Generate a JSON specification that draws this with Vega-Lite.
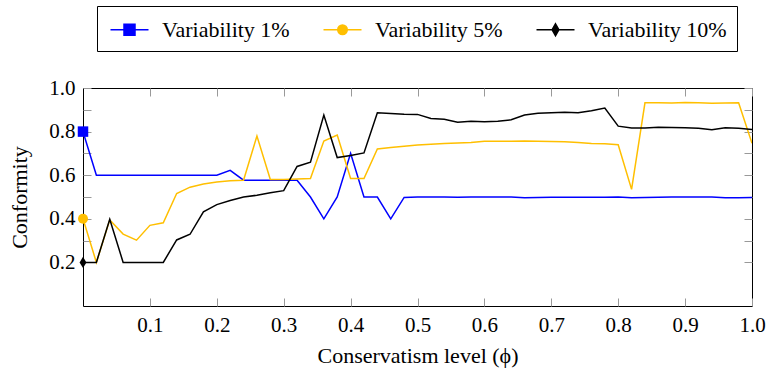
{
  "$schema": "https://vega.github.io/schema/vega-lite/v6.json",
  "width": 669,
  "height": 218,
  "autosize": {"type": "none"},
  "padding": {"left": 83, "top": 88, "right": 19, "bottom": 67},
  "config": {
    "view": {"stroke": "black", "strokeWidth": 1},
    "font": "Times New Roman",
    "axis": {"grid": false, "domain": false, "tickColor": "#999999", "labelFont": "Times New Roman", "labelFontSize": 21, "labelColor": "black", "titleFont": "Times New Roman", "titleFontSize": 22, "titleFontWeight": "normal", "titleColor": "black"}
  },
  "datasets": {
    "main": [
      {"phi": 0.00, "series": "Variability 1%", "conformity": 0.8},
      {"phi": 0.02, "series": "Variability 1%", "conformity": 0.6},
      {"phi": 0.04, "series": "Variability 1%", "conformity": 0.6},
      {"phi": 0.06, "series": "Variability 1%", "conformity": 0.6},
      {"phi": 0.08, "series": "Variability 1%", "conformity": 0.6},
      {"phi": 0.10, "series": "Variability 1%", "conformity": 0.6},
      {"phi": 0.12, "series": "Variability 1%", "conformity": 0.6},
      {"phi": 0.14, "series": "Variability 1%", "conformity": 0.6},
      {"phi": 0.16, "series": "Variability 1%", "conformity": 0.6},
      {"phi": 0.18, "series": "Variability 1%", "conformity": 0.6},
      {"phi": 0.20, "series": "Variability 1%", "conformity": 0.6},
      {"phi": 0.22, "series": "Variability 1%", "conformity": 0.622},
      {"phi": 0.24, "series": "Variability 1%", "conformity": 0.577},
      {"phi": 0.26, "series": "Variability 1%", "conformity": 0.577},
      {"phi": 0.28, "series": "Variability 1%", "conformity": 0.577},
      {"phi": 0.30, "series": "Variability 1%", "conformity": 0.577},
      {"phi": 0.32, "series": "Variability 1%", "conformity": 0.577},
      {"phi": 0.34, "series": "Variability 1%", "conformity": 0.5},
      {"phi": 0.36, "series": "Variability 1%", "conformity": 0.4},
      {"phi": 0.38, "series": "Variability 1%", "conformity": 0.5},
      {"phi": 0.40, "series": "Variability 1%", "conformity": 0.7},
      {"phi": 0.42, "series": "Variability 1%", "conformity": 0.5},
      {"phi": 0.44, "series": "Variability 1%", "conformity": 0.5},
      {"phi": 0.46, "series": "Variability 1%", "conformity": 0.4},
      {"phi": 0.48, "series": "Variability 1%", "conformity": 0.498},
      {"phi": 0.50, "series": "Variability 1%", "conformity": 0.5},
      {"phi": 0.52, "series": "Variability 1%", "conformity": 0.5},
      {"phi": 0.54, "series": "Variability 1%", "conformity": 0.5},
      {"phi": 0.56, "series": "Variability 1%", "conformity": 0.499},
      {"phi": 0.58, "series": "Variability 1%", "conformity": 0.5},
      {"phi": 0.60, "series": "Variability 1%", "conformity": 0.5},
      {"phi": 0.62, "series": "Variability 1%", "conformity": 0.5},
      {"phi": 0.64, "series": "Variability 1%", "conformity": 0.5},
      {"phi": 0.66, "series": "Variability 1%", "conformity": 0.497},
      {"phi": 0.68, "series": "Variability 1%", "conformity": 0.498},
      {"phi": 0.70, "series": "Variability 1%", "conformity": 0.499},
      {"phi": 0.72, "series": "Variability 1%", "conformity": 0.499},
      {"phi": 0.74, "series": "Variability 1%", "conformity": 0.499},
      {"phi": 0.76, "series": "Variability 1%", "conformity": 0.499},
      {"phi": 0.78, "series": "Variability 1%", "conformity": 0.499},
      {"phi": 0.80, "series": "Variability 1%", "conformity": 0.5},
      {"phi": 0.82, "series": "Variability 1%", "conformity": 0.497},
      {"phi": 0.84, "series": "Variability 1%", "conformity": 0.498},
      {"phi": 0.86, "series": "Variability 1%", "conformity": 0.499},
      {"phi": 0.88, "series": "Variability 1%", "conformity": 0.5},
      {"phi": 0.90, "series": "Variability 1%", "conformity": 0.5},
      {"phi": 0.92, "series": "Variability 1%", "conformity": 0.5},
      {"phi": 0.94, "series": "Variability 1%", "conformity": 0.5},
      {"phi": 0.96, "series": "Variability 1%", "conformity": 0.497},
      {"phi": 0.98, "series": "Variability 1%", "conformity": 0.497},
      {"phi": 1.00, "series": "Variability 1%", "conformity": 0.498},
      {"phi": 0.00, "series": "Variability 5%", "conformity": 0.4},
      {"phi": 0.02, "series": "Variability 5%", "conformity": 0.2},
      {"phi": 0.04, "series": "Variability 5%", "conformity": 0.395},
      {"phi": 0.06, "series": "Variability 5%", "conformity": 0.33},
      {"phi": 0.08, "series": "Variability 5%", "conformity": 0.302},
      {"phi": 0.10, "series": "Variability 5%", "conformity": 0.37},
      {"phi": 0.12, "series": "Variability 5%", "conformity": 0.382},
      {"phi": 0.14, "series": "Variability 5%", "conformity": 0.516},
      {"phi": 0.16, "series": "Variability 5%", "conformity": 0.545},
      {"phi": 0.18, "series": "Variability 5%", "conformity": 0.56},
      {"phi": 0.20, "series": "Variability 5%", "conformity": 0.569},
      {"phi": 0.22, "series": "Variability 5%", "conformity": 0.575},
      {"phi": 0.24, "series": "Variability 5%", "conformity": 0.577},
      {"phi": 0.26, "series": "Variability 5%", "conformity": 0.78},
      {"phi": 0.28, "series": "Variability 5%", "conformity": 0.58},
      {"phi": 0.30, "series": "Variability 5%", "conformity": 0.58},
      {"phi": 0.32, "series": "Variability 5%", "conformity": 0.583},
      {"phi": 0.34, "series": "Variability 5%", "conformity": 0.585},
      {"phi": 0.36, "series": "Variability 5%", "conformity": 0.757},
      {"phi": 0.38, "series": "Variability 5%", "conformity": 0.784},
      {"phi": 0.40, "series": "Variability 5%", "conformity": 0.585},
      {"phi": 0.42, "series": "Variability 5%", "conformity": 0.585},
      {"phi": 0.44, "series": "Variability 5%", "conformity": 0.72},
      {"phi": 0.46, "series": "Variability 5%", "conformity": 0.727},
      {"phi": 0.48, "series": "Variability 5%", "conformity": 0.733},
      {"phi": 0.50, "series": "Variability 5%", "conformity": 0.738},
      {"phi": 0.52, "series": "Variability 5%", "conformity": 0.742},
      {"phi": 0.54, "series": "Variability 5%", "conformity": 0.745},
      {"phi": 0.56, "series": "Variability 5%", "conformity": 0.748},
      {"phi": 0.58, "series": "Variability 5%", "conformity": 0.75},
      {"phi": 0.60, "series": "Variability 5%", "conformity": 0.756},
      {"phi": 0.62, "series": "Variability 5%", "conformity": 0.756},
      {"phi": 0.64, "series": "Variability 5%", "conformity": 0.756},
      {"phi": 0.66, "series": "Variability 5%", "conformity": 0.757},
      {"phi": 0.68, "series": "Variability 5%", "conformity": 0.756},
      {"phi": 0.70, "series": "Variability 5%", "conformity": 0.755},
      {"phi": 0.72, "series": "Variability 5%", "conformity": 0.753},
      {"phi": 0.74, "series": "Variability 5%", "conformity": 0.75},
      {"phi": 0.76, "series": "Variability 5%", "conformity": 0.745},
      {"phi": 0.78, "series": "Variability 5%", "conformity": 0.744},
      {"phi": 0.80, "series": "Variability 5%", "conformity": 0.74},
      {"phi": 0.82, "series": "Variability 5%", "conformity": 0.535},
      {"phi": 0.84, "series": "Variability 5%", "conformity": 0.932},
      {"phi": 0.86, "series": "Variability 5%", "conformity": 0.932},
      {"phi": 0.88, "series": "Variability 5%", "conformity": 0.931},
      {"phi": 0.90, "series": "Variability 5%", "conformity": 0.933},
      {"phi": 0.92, "series": "Variability 5%", "conformity": 0.932},
      {"phi": 0.94, "series": "Variability 5%", "conformity": 0.93},
      {"phi": 0.96, "series": "Variability 5%", "conformity": 0.931},
      {"phi": 0.98, "series": "Variability 5%", "conformity": 0.932},
      {"phi": 1.00, "series": "Variability 5%", "conformity": 0.746},
      {"phi": 0.00, "series": "Variability 10%", "conformity": 0.2},
      {"phi": 0.02, "series": "Variability 10%", "conformity": 0.2},
      {"phi": 0.04, "series": "Variability 10%", "conformity": 0.398},
      {"phi": 0.06, "series": "Variability 10%", "conformity": 0.2},
      {"phi": 0.08, "series": "Variability 10%", "conformity": 0.2},
      {"phi": 0.10, "series": "Variability 10%", "conformity": 0.2},
      {"phi": 0.12, "series": "Variability 10%", "conformity": 0.2},
      {"phi": 0.14, "series": "Variability 10%", "conformity": 0.303},
      {"phi": 0.16, "series": "Variability 10%", "conformity": 0.329},
      {"phi": 0.18, "series": "Variability 10%", "conformity": 0.432},
      {"phi": 0.20, "series": "Variability 10%", "conformity": 0.465},
      {"phi": 0.22, "series": "Variability 10%", "conformity": 0.484},
      {"phi": 0.24, "series": "Variability 10%", "conformity": 0.5},
      {"phi": 0.26, "series": "Variability 10%", "conformity": 0.508},
      {"phi": 0.28, "series": "Variability 10%", "conformity": 0.519},
      {"phi": 0.30, "series": "Variability 10%", "conformity": 0.529},
      {"phi": 0.32, "series": "Variability 10%", "conformity": 0.64},
      {"phi": 0.34, "series": "Variability 10%", "conformity": 0.66},
      {"phi": 0.36, "series": "Variability 10%", "conformity": 0.876},
      {"phi": 0.38, "series": "Variability 10%", "conformity": 0.681},
      {"phi": 0.40, "series": "Variability 10%", "conformity": 0.69},
      {"phi": 0.42, "series": "Variability 10%", "conformity": 0.702},
      {"phi": 0.44, "series": "Variability 10%", "conformity": 0.886},
      {"phi": 0.46, "series": "Variability 10%", "conformity": 0.883},
      {"phi": 0.48, "series": "Variability 10%", "conformity": 0.88},
      {"phi": 0.50, "series": "Variability 10%", "conformity": 0.879},
      {"phi": 0.52, "series": "Variability 10%", "conformity": 0.86},
      {"phi": 0.54, "series": "Variability 10%", "conformity": 0.857},
      {"phi": 0.56, "series": "Variability 10%", "conformity": 0.843},
      {"phi": 0.58, "series": "Variability 10%", "conformity": 0.848},
      {"phi": 0.60, "series": "Variability 10%", "conformity": 0.845},
      {"phi": 0.62, "series": "Variability 10%", "conformity": 0.848},
      {"phi": 0.64, "series": "Variability 10%", "conformity": 0.854},
      {"phi": 0.66, "series": "Variability 10%", "conformity": 0.876},
      {"phi": 0.68, "series": "Variability 10%", "conformity": 0.884},
      {"phi": 0.70, "series": "Variability 10%", "conformity": 0.886},
      {"phi": 0.72, "series": "Variability 10%", "conformity": 0.889},
      {"phi": 0.74, "series": "Variability 10%", "conformity": 0.886},
      {"phi": 0.76, "series": "Variability 10%", "conformity": 0.896},
      {"phi": 0.78, "series": "Variability 10%", "conformity": 0.908},
      {"phi": 0.80, "series": "Variability 10%", "conformity": 0.825},
      {"phi": 0.82, "series": "Variability 10%", "conformity": 0.816},
      {"phi": 0.84, "series": "Variability 10%", "conformity": 0.817},
      {"phi": 0.86, "series": "Variability 10%", "conformity": 0.82},
      {"phi": 0.88, "series": "Variability 10%", "conformity": 0.819},
      {"phi": 0.90, "series": "Variability 10%", "conformity": 0.818},
      {"phi": 0.92, "series": "Variability 10%", "conformity": 0.815},
      {"phi": 0.94, "series": "Variability 10%", "conformity": 0.808},
      {"phi": 0.96, "series": "Variability 10%", "conformity": 0.818},
      {"phi": 0.98, "series": "Variability 10%", "conformity": 0.815},
      {"phi": 1.00, "series": "Variability 10%", "conformity": 0.81}
    ]
  },
  "data": {"name": "main"},
  "layer": [
    {
      "mark": {"type": "line", "strokeWidth": 1.5, "clip": true},
      "encoding": {
        "x": {
          "field": "phi", "type": "quantitative",
          "scale": {"domain": [0, 1], "nice": false, "zero": false},
          "axis": {"orient": "bottom", "values": [0.1, 0.2, 0.3, 0.4, 0.5, 0.6, 0.7, 0.8, 0.9, 1.0], "format": ".1f", "tickSize": -8, "labelPadding": 16, "labelFlush": false, "labelOverlap": false, "title": "Conservatism level (ϕ)", "titlePadding": 10}
        },
        "y": {
          "field": "conformity", "type": "quantitative",
          "scale": {"domain": [0, 1], "nice": false, "zero": false},
          "axis": {"orient": "left", "values": [0.2, 0.3, 0.4, 0.5, 0.6, 0.7, 0.8, 0.9, 1.0], "labelExpr": "round(datum.value*10) % 2 == 0 ? format(datum.value, '.1f') : ''", "tickSize": -8, "labelPadding": 16, "labelFlush": false, "labelOverlap": false, "title": "Conformity", "titlePadding": 17}
        },
        "color": {
          "field": "series", "type": "nominal",
          "scale": {"domain": ["Variability 1%", "Variability 5%", "Variability 10%"], "range": ["#0000ff", "#ffbf00", "#000000"]},
          "legend": {
            "title": null,
            "orient": "none",
            "legendX": 14,
            "legendY": -82,
            "direction": "horizontal",
            "columns": 3,
            "labelFont": "Times New Roman",
            "labelFontSize": 22,
            "labelColor": "black",
            "labelLimit": 400,
            "labelOffset": 19,
            "symbolOffset": 9,
            "columnPadding": 30,
            "padding": 10,
            "strokeColor": "black",
            "fillColor": "white",
            "symbolSize": 625,
            "symbolStrokeWidth": 1.5,
            "encode": {
              "symbols": {
                "update": {
                  "shape": {"signal": "datum.value === 'Variability 1%' ? 'M-1.52,0H1.52M-0.44,-0.44H0.44V0.44H-0.44Z' : (datum.value === 'Variability 5%' ? 'M-1.52,0H1.52M-0.38,0A0.38,0.38 0 1,0 0.38,0A0.38,0.38 0 1,0 -0.38,0Z' : 'M-1.52,0H1.52M0,-0.47L0.27,0L0,0.47L-0.27,0Z')"},
                  "fill": {"signal": "scale('color', datum.value)"},
                  "stroke": {"signal": "scale('color', datum.value)"},
                  "strokeWidth": {"value": 1.5},
                  "opacity": {"value": 1}
                }
              }
            }
          }
        }
      }
    },
    {
      "transform": [{"filter": "datum.phi == 0 && datum.series == 'Variability 1%'"}],
      "mark": {"type": "point", "filled": true, "opacity": 1, "size": 110, "shape": "square", "color": "#0000ff", "clip": false},
      "encoding": {
        "x": {
          "field": "phi", "type": "quantitative",
          "axis": {"orient": "top", "values": [0.1, 0.2, 0.3, 0.4, 0.5, 0.6, 0.7, 0.8, 0.9, 1.0], "labels": false, "tickSize": -8, "title": null}
        },
        "y": {
          "field": "conformity", "type": "quantitative",
          "axis": {"orient": "right", "values": [0.2, 0.3, 0.4, 0.5, 0.6, 0.7, 0.8, 0.9, 1.0], "labels": false, "tickSize": -8, "title": null}
        }
      }
    },
    {
      "transform": [{"filter": "datum.phi == 0 && datum.series == 'Variability 5%'"}],
      "mark": {"type": "point", "filled": true, "opacity": 1, "size": 100, "shape": "circle", "color": "#ffbf00", "clip": false},
      "encoding": {
        "x": {"field": "phi", "type": "quantitative", "axis": null},
        "y": {"field": "conformity", "type": "quantitative", "axis": null}
      }
    },
    {
      "transform": [{"filter": "datum.phi == 0 && datum.series == 'Variability 10%'"}],
      "mark": {"type": "point", "filled": true, "opacity": 1, "size": 130, "shape": "M0,-1L0.6,0L0,1L-0.6,0Z", "color": "#000000", "clip": false},
      "encoding": {
        "x": {"field": "phi", "type": "quantitative", "axis": null},
        "y": {"field": "conformity", "type": "quantitative", "axis": null}
      }
    }
  ],
  "resolve": {"axis": {"x": "independent", "y": "independent"}}
}
